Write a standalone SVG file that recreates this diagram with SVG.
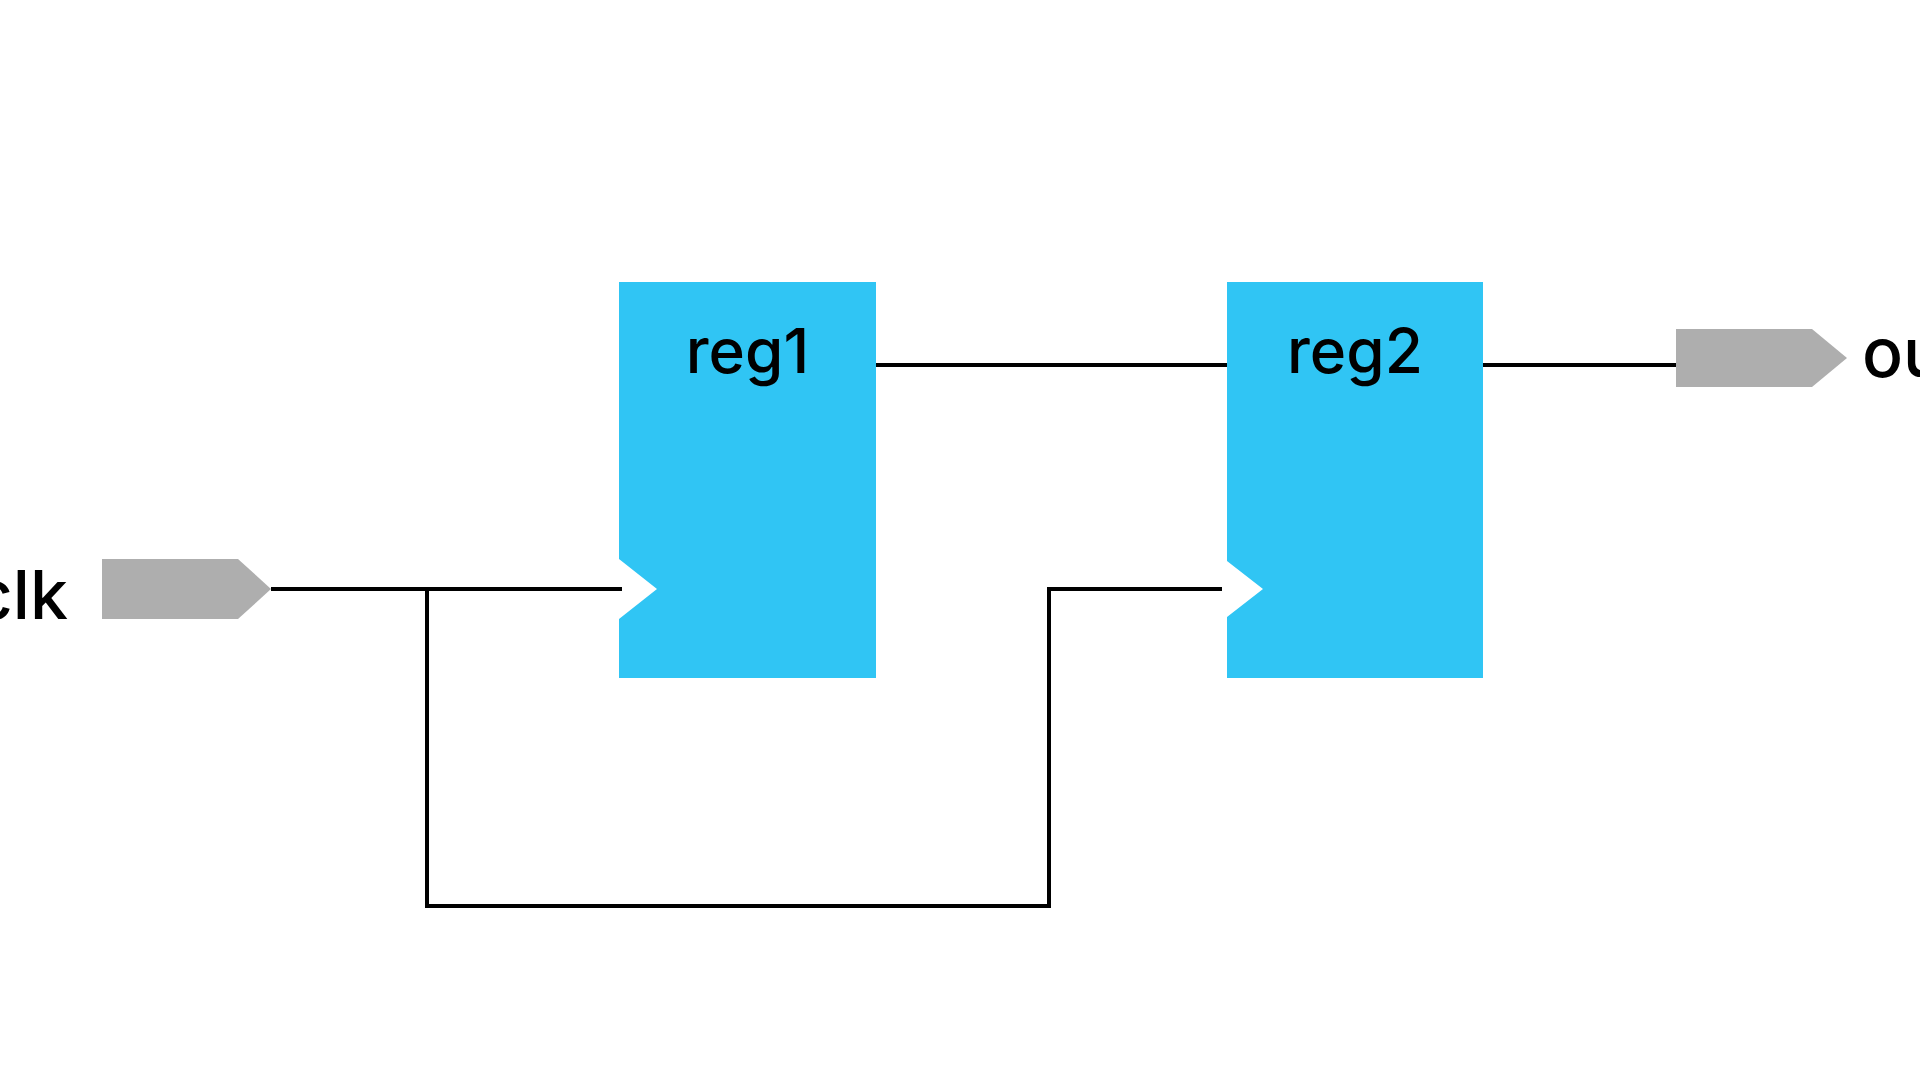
<svg xmlns="http://www.w3.org/2000/svg" width="1920" height="1080" viewBox="0 0 1920 1080">
  <style>
    .reg { fill: #30C5F4; }
    .port { fill: #AEAEAE; }
    .wire { fill: none; stroke: #000000; stroke-width: 4; stroke-linejoin: miter; }
    .reglabel { font-family: Inter, "Liberation Sans", sans-serif; font-size: 62px; font-weight: 500; fill: #000000; text-anchor: middle; }
    .portlabel { font-family: Inter, "Liberation Sans", sans-serif; font-size: 68px; font-weight: 500; fill: #000000; }
  </style>
  <rect x="0" y="0" width="1920" height="1080" fill="#FFFFFF"/>
  <g id="connectors">
    <path class="wire" d="M271,589 H622"/>
    <path class="wire" d="M427,589 V906 H1049 V589 H1222"/>
    <path class="wire" d="M876,365 H1227"/>
    <path class="wire" d="M1483,365 H1676"/>
  </g>
  <g id="clk">
    <polygon class="port" points="102,559 238,559 271,589 238,619 102,619"/>
    <text class="portlabel" x="68" y="619" text-anchor="end">clk</text>
  </g>
  <g id="reg1">
    <path class="reg" d="M619,282 H876 V678 H619 V619 L657,589 L619,559 Z"/>
    <text class="reglabel" x="747.5" y="373">reg1</text>
  </g>
  <g id="reg2">
    <path class="reg" d="M1227,282 H1483 V678 H1227 V617 L1263,589 L1227,561 Z"/>
    <text class="reglabel" x="1355" y="373">reg2</text>
  </g>
  <g id="out">
    <polygon class="port" points="1676,329 1812,329 1847,358 1812,387 1676,387"/>
    <text class="portlabel" x="1862" y="377">out</text>
  </g>
</svg>
